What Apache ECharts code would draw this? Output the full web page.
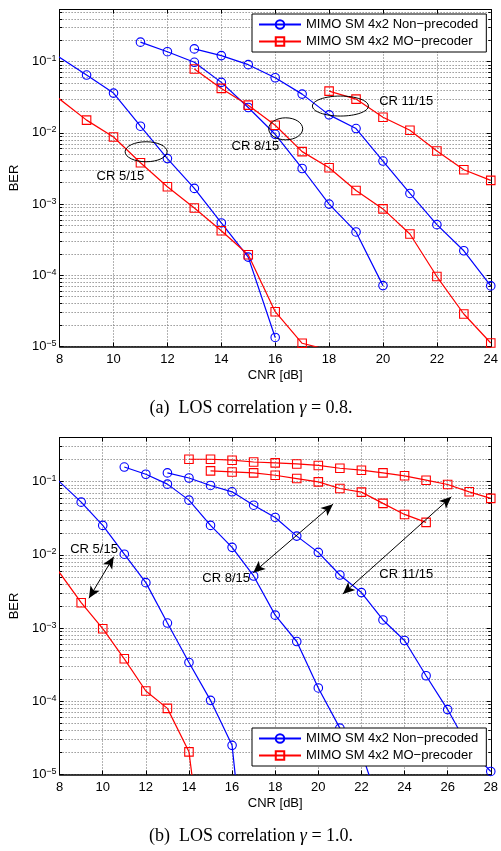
<!DOCTYPE html>
<html>
<head>
<meta charset="utf-8">
<script src="https://cdn.jsdelivr.net/npm/echarts@6/dist/echarts.min.js"></script>
<style>
  html, body { margin: 0; padding: 0; background: #fff; }
  #chart { width: 501px; height: 851px; }
</style>
</head>
<body>
<div id="chart"></div>
<script>
// ---------- series names ----------
const NAME_NP = 'MIMO SM 4x2 Non\u2212precoded';
const NAME_MO = 'MIMO SM 4x2 MO\u2212precoder';

// ---------- panel (a): LOS correlation 0.8 ----------
const a_np515_cnr = [7, 9, 10, 11, 12, 13, 14, 15, 16];
const a_np515_ber = [0.202, 0.0649, 0.0362, 0.0124, 0.00435, 0.00166, 5.43e-4, 1.8e-4, 1.34e-5];
const a_mo515_cnr = [7, 9, 10, 11, 12, 13, 14, 15, 16, 17, 18];
const a_mo515_ber = [0.0588, 0.0151, 0.00875, 0.00381, 0.00175, 8.83e-4, 4.23e-4, 1.94e-4, 3.08e-5, 1.11e-5, 8.9e-6];
const a_np815_cnr = [11, 12, 13, 14, 15, 16, 17, 18, 19, 20];
const a_np815_ber = [0.188, 0.138, 0.098, 0.0512, 0.0227, 0.00955, 0.00316, 1.0e-3, 4.06e-4, 7.16e-5];
const a_mo815_cnr = [13, 14, 15, 16, 17, 18, 19, 20, 21, 22, 23, 24];
const a_mo815_ber = [0.0789, 0.0421, 0.0245, 0.0128, 0.00545, 0.00324, 0.00155, 8.55e-4, 3.8e-4, 9.6e-5, 2.86e-5, 1.12e-5];
const a_np1115_cnr = [13, 14, 15, 16, 17, 18, 19, 20, 21, 22, 23, 24];
const a_np1115_ber = [0.151, 0.1216, 0.0907, 0.0594, 0.035, 0.0179, 0.0115, 0.00402, 0.00141, 5.14e-4, 2.21e-4, 7.1e-5];
const a_mo1115_cnr = [18, 19, 20, 21, 22, 23, 24];
const a_mo1115_ber = [0.0386, 0.0298, 0.0166, 0.0109, 0.00556, 0.00303, 0.00215];

// ---------- panel (b): LOS correlation 1.0 ----------
const b_np515_cnr = [7, 9, 10, 11, 12, 13, 14, 15, 16, 17];
const b_np515_ber = [0.1875, 0.0524, 0.0252, 0.0102, 0.00417, 0.00117, 3.39e-4, 1.03e-4, 2.5e-5, 4e-8];
const b_mo515_cnr = [7, 9, 10, 11, 12, 13, 14, 15];
const b_mo515_ber = [0.0146, 0.00222, 9.8e-4, 3.8e-4, 1.38e-4, 8.0e-5, 2.04e-5, 1e-7];
const b_np815_cnr = [11, 12, 13, 14, 15, 16, 17, 18, 19, 20, 21, 22, 23];
const b_np815_ber = [0.158, 0.126, 0.0923, 0.0558, 0.0252, 0.01265, 0.00514, 0.0015, 6.55e-4, 1.52e-4, 4.3e-5, 2.0e-5, 2.7e-6];
const b_mo815_cnr = [15, 16, 17, 18, 19, 20, 21, 22, 23, 24, 25];
const b_mo815_ber = [0.14, 0.1355, 0.1315, 0.122, 0.11, 0.099, 0.0805, 0.0718, 0.0504, 0.0356, 0.0277];
const b_np1115_cnr = [13, 14, 15, 16, 17, 18, 19, 20, 21, 22, 23, 24, 25, 26, 27, 28];
const b_np1115_ber = [0.1315, 0.112, 0.0885, 0.0725, 0.0476, 0.0324, 0.018, 0.0108, 0.0053, 0.00305, 0.00129, 6.76e-4, 2.23e-4, 7.7e-5, 2.26e-5, 1.1e-5];
const b_mo1115_cnr = [14, 15, 16, 17, 18, 19, 20, 21, 22, 23, 24, 25, 26, 27, 28];
const b_mo1115_ber = [0.202, 0.202, 0.196, 0.185, 0.18, 0.174, 0.166, 0.152, 0.143, 0.1315, 0.12, 0.1045, 0.0912, 0.0725, 0.0589];

// ---------- annotations (data coordinates) ----------
const ellipsesA = [
  { at: [11.21, 0.00543], rx: 21, ry: 10 },
  { at: [16.39, 0.0114], rx: 17, ry: 11 },
  { at: [18.42, 0.0238], rx: 28, ry: 10 }
];
const notesA = [
  { text: 'CR 5/15', at: [9.37, 0.00244], align: 'left' },
  { text: 'CR 8/15', at: [16.15, 0.00644], align: 'right' },
  { text: 'CR 11/15', at: [19.86, 0.0276], align: 'left' }
];
const notesB = [
  { text: 'CR 5/15', at: [8.49, 0.012], align: 'left' },
  { text: 'CR 8/15', at: [16.83, 0.00479], align: 'right' },
  { text: 'CR 11/15', at: [22.83, 0.00542], align: 'left' }
];
const arrowsB = [
  [[9.36, 0.00255], [10.51, 0.00942]],
  [[16.98, 0.0057], [20.68, 0.0492]],
  [[21.14, 0.00292], [26.17, 0.0619]]
];

// ---------- styling ----------
const BLUE = '#0000ff';
const RED = '#ff0000';
const SANS = 'Liberation Sans, Arial, Helvetica, sans-serif';
const SERIF = 'Liberation Serif, Times New Roman, serif';
const DOTTED = { color: '#666', width: 1, type: [1, 2] };

function supLabel(v) {
  const lg = Math.log10(v);
  const e = Math.round(lg);
  if (Math.abs(lg - e) > 1e-6) return '';
  return '{b|10}{s|' + (e < 0 ? '\u2212' : '') + Math.abs(e) + '}';
}

function axesFor(g, xmax, ymax) {
  const xs = [
    {
      type: 'value', gridIndex: g, position: 'bottom', min: 8, max: xmax, interval: 2,
      name: 'CNR [dB]', nameLocation: 'middle', nameGap: 22,
      nameTextStyle: { fontSize: 13, color: '#000', fontFamily: SANS },
      axisLine: { show: true, onZero: false, lineStyle: { color: '#000', width: 1.5 } },
      axisTick: { show: true, inside: true, length: 4, lineStyle: { color: '#000' } },
      axisLabel: { fontSize: 13, color: '#000', margin: 6, fontFamily: SANS },
      splitLine: { show: true, lineStyle: DOTTED }
    },
    {
      type: 'value', gridIndex: g, position: 'top', min: 8, max: xmax, interval: 2,
      axisLine: { show: true, onZero: false, lineStyle: { color: '#000', width: 1 } },
      axisTick: { show: true, inside: true, length: 4, lineStyle: { color: '#000' } },
      axisLabel: { show: false },
      splitLine: { show: false }
    }
  ];
  const ys = [
    {
      type: 'log', logBase: 10, gridIndex: g, position: 'left', min: 1e-5, max: ymax,
      name: 'BER', nameLocation: 'middle', nameGap: 33, nameRotate: 90,
      nameTextStyle: { fontSize: 13, color: '#000', fontFamily: SANS },
      axisLine: { show: true, onZero: false, lineStyle: { color: '#000', width: 1 } },
      axisTick: { show: true, inside: true, length: 4, lineStyle: { color: '#000' } },
      minorTick: { show: true, splitNumber: 9, length: 2.5, lineStyle: { color: '#000' } },
      axisLabel: {
        margin: 3, color: '#000', fontFamily: SANS, formatter: supLabel,
        rich: {
          b: { fontSize: 13, fontFamily: SANS, color: '#000', lineHeight: 15 },
          s: { fontSize: 9, fontFamily: SANS, color: '#000', verticalAlign: 'top', lineHeight: 9 }
        }
      },
      splitLine: { show: true, lineStyle: DOTTED },
      minorSplitLine: { show: true, lineStyle: DOTTED }
    },
    {
      type: 'log', logBase: 10, gridIndex: g, position: 'right', min: 1e-5, max: ymax,
      axisLine: { show: true, onZero: false, lineStyle: { color: '#000', width: 1 } },
      axisTick: { show: true, inside: true, length: 4, lineStyle: { color: '#000' } },
      minorTick: { show: true, splitNumber: 9, length: 2.5, lineStyle: { color: '#000' } },
      axisLabel: { show: false },
      splitLine: { show: false }
    }
  ];
  return { xs, ys };
}

function curve(g, name, cnr, ber, color, symbol) {
  return {
    type: 'line', name,
    xAxisIndex: 2 * g, yAxisIndex: 2 * g,
    data: cnr.map((x, i) => [x, ber[i]]),
    symbol, symbolSize: 8.5,
    clip: true,
    lineStyle: { color, width: 1.2 },
    itemStyle: { color: 'rgba(0,0,0,0)', borderColor: color, borderWidth: 1.1 },
    emphasis: { disabled: true },
    animation: false, silent: true
  };
}

const axA = axesFor(0, 24, 0.54);
const axB = axesFor(1, 28, 0.4);

const legendBase = {
  orient: 'vertical', padding: [4, 8, 4, 6], itemGap: 4,
  itemWidth: 42, itemHeight: 10.6,
  borderColor: '#000', borderWidth: 1, borderRadius: 0, backgroundColor: '#fff',
  textStyle: { fontSize: 13, color: '#000', fontFamily: SANS },
  data: [NAME_NP, NAME_MO], selectedMode: false
};

const series = [
  curve(0, NAME_NP, a_np515_cnr, a_np515_ber, BLUE, 'circle'),
  curve(0, NAME_MO, a_mo515_cnr, a_mo515_ber, RED, 'rect'),
  curve(0, NAME_NP, a_np815_cnr, a_np815_ber, BLUE, 'circle'),
  curve(0, NAME_MO, a_mo815_cnr, a_mo815_ber, RED, 'rect'),
  curve(0, NAME_NP, a_np1115_cnr, a_np1115_ber, BLUE, 'circle'),
  curve(0, NAME_MO, a_mo1115_cnr, a_mo1115_ber, RED, 'rect'),
  curve(1, NAME_NP, b_np515_cnr, b_np515_ber, BLUE, 'circle'),
  curve(1, NAME_MO, b_mo515_cnr, b_mo515_ber, RED, 'rect'),
  curve(1, NAME_NP, b_np815_cnr, b_np815_ber, BLUE, 'circle'),
  curve(1, NAME_MO, b_mo815_cnr, b_mo815_ber, RED, 'rect'),
  curve(1, NAME_NP, b_np1115_cnr, b_np1115_ber, BLUE, 'circle'),
  curve(1, NAME_MO, b_mo1115_cnr, b_mo1115_ber, RED, 'rect')
];

// double-headed arrows of panel (b)
series[6].markLine = {
  silent: true, animation: false,
  symbol: ['arrow', 'arrow'], symbolSize: [8, 12],
  label: { show: false },
  lineStyle: { color: '#000', width: 1, type: 'solid' },
  emphasis: { disabled: true },
  data: arrowsB.map(([p, q]) => [{ coord: p }, { coord: q }])
};

const chart = echarts.init(document.getElementById('chart'), null, { renderer: 'canvas' });
chart.setOption({
  animation: false,
  backgroundColor: '#fff',
  grid: [
    { left: 55, top: 9.5, width: 438, height: 337 },
    { left: 55, top: 437.5, width: 438, height: 337 }
  ],
  xAxis: axA.xs.concat(axB.xs),
  yAxis: axA.ys.concat(axB.ys),
  legend: [
    Object.assign({}, legendBase, { left: 252, top: 14 }),
    Object.assign({}, legendBase, { left: 252, top: 728 })
  ],
  series
});

// annotations placed through the axes' own scales
const toPx = (seriesIndex, p) => chart.convertToPixel({ seriesIndex }, p);
const graphic = [];
ellipsesA.forEach(e => {
  const c = toPx(0, e.at);
  graphic.push({
    type: 'ellipse', silent: true, z: 5,
    shape: { cx: c[0], cy: c[1], rx: e.rx, ry: e.ry },
    style: { fill: 'none', stroke: '#000', lineWidth: 1 }
  });
});
[[0, notesA], [6, notesB]].forEach(([si, notes]) => {
  notes.forEach(n => {
    const c = toPx(si, n.at);
    graphic.push({
      type: 'text', silent: true, z: 5, x: c[0], y: c[1],
      style: { text: n.text, fill: '#000', font: '13px ' + SANS, align: n.align, verticalAlign: 'middle' }
    });
  });
});
[['(a)', '0.8', 408], ['(b)', '1.0', 836]].forEach(([tag, gamma, y]) => {
  graphic.push({
    type: 'text', silent: true, x: 251, y,
    style: {
      text: tag + '  LOS correlation {i|\u03b3} = ' + gamma + '.',
      rich: { i: { fontStyle: 'italic', font: 'italic 18px ' + SERIF } },
      font: '18px ' + SERIF, fill: '#000', align: 'center', verticalAlign: 'middle'
    }
  });
});
chart.setOption({ graphic });
</script>
</body>
</html>
